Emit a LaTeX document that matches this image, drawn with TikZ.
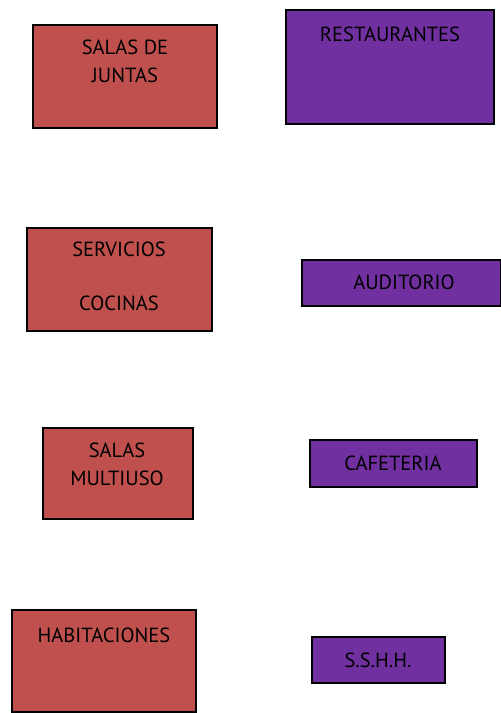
\documentclass[tikz,border=0pt]{standalone}
\usepackage{fontspec}
\setmainfont{PT Sans}
\definecolor{boxred}{HTML}{C0504D}
\definecolor{boxpurple}{HTML}{7030A0}
\begin{document}
\begin{tikzpicture}[x=1pt,y=-1pt,
  roombox/.style={draw=black,line width=1.6pt,inner sep=0pt,outer sep=0pt},
  redbox/.style={roombox,fill=boxred},
  purplebox/.style={roombox,fill=boxpurple},
  lbl/.style={inner sep=0pt,font=\fontsize{20.5}{24}\selectfont,text=black}]
\useasboundingbox (0,0) rectangle (501,713);
% boxes
\draw[redbox] (33,25) rectangle (217,128);
\node[lbl] (juntas1) at (125,47) {SALAS DE};
\node[lbl] (juntas2) at (125,75) {JUNTAS};
\draw[purplebox] (286,10) rectangle (494,124);
\node[lbl] (rest) at (390,34) {RESTAURANTES};
\draw[redbox] (27,228) rectangle (212,331);
\node[lbl] (serv) at (119,249) {SERVICIOS};
\node[lbl] (coc) at (119,303) {COCINAS};
\draw[purplebox] (302,260) rectangle (501,306);
\node[lbl] (aud) at (404,282) {AUDITORIO};
\draw[redbox] (43,428) rectangle (193,519);
\node[lbl] (mult1) at (117,450) {SALAS};
\node[lbl] (mult2) at (117,478) {MULTIUSO};
\draw[purplebox] (310,440) rectangle (477,487);
\node[lbl] (caf) at (393,463) {CAFETERIA};
\draw[redbox] (12,610) rectangle (196,712);
\node[lbl] (hab) at (104,635) {HABITACIONES};
\draw[purplebox] (312,637) rectangle (445,683);
\node[lbl] (ss) at (378,660) {S.S.H.H.};
\end{tikzpicture}
\end{document}
